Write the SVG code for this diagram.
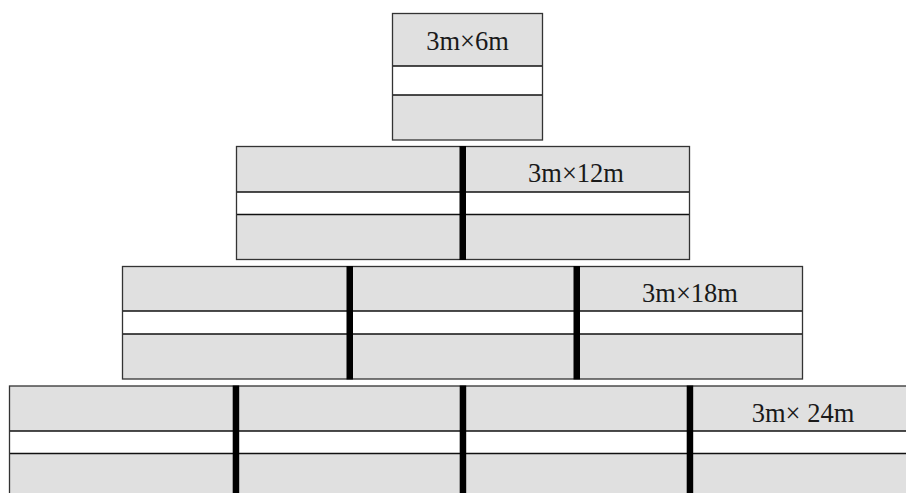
<svg xmlns="http://www.w3.org/2000/svg" width="906" height="493" viewBox="0 0 906 493">
  <style>
    .bg { fill: #ffffff; }
    .cell { fill: #e0e0e0; }
    .band { fill: #ffffff; }
    .edge { fill: none; stroke: #333333; stroke-width: 1.3; }
    .line { stroke: #111111; stroke-width: 1.3; }
    .div { fill: #000000; }
    .lbl { font-family: "Liberation Serif", "Times New Roman", serif; font-size: 26.5px; fill: #1a1a1a; text-anchor: middle; }
  </style>
  <rect class="bg" x="0" y="0" width="906" height="493"/>

  <g id="row-3x6">
    <rect class="cell" x="392.5" y="13.5" width="150" height="126.5"/>
    <rect class="band" x="392.5" y="66" width="150" height="29"/>
    <line class="line" x1="392.5" y1="66" x2="542.5" y2="66"/>
    <line class="line" x1="392.5" y1="95" x2="542.5" y2="95"/>
    <rect class="edge" x="392.5" y="13.5" width="150" height="126.5"/>
    <text class="lbl" x="467.5" y="50">3m×6m</text>
  </g>

  <g id="row-3x12">
    <rect class="cell" x="236.5" y="146.5" width="453" height="113"/>
    <rect class="band" x="236.5" y="192" width="453" height="22.5"/>
    <line class="line" x1="236.5" y1="192" x2="689.5" y2="192"/>
    <line class="line" x1="236.5" y1="214.5" x2="689.5" y2="214.5"/>
    <rect class="edge" x="236.5" y="146.5" width="453" height="113"/>
    <rect class="div" x="459.5" y="146" width="6.5" height="114"/>
    <text class="lbl" x="576" y="182">3m×12m</text>
  </g>

  <g id="row-3x18">
    <rect class="cell" x="122.5" y="266.5" width="680" height="112.5"/>
    <rect class="band" x="122.5" y="311" width="680" height="23"/>
    <line class="line" x1="122.5" y1="311" x2="802.5" y2="311"/>
    <line class="line" x1="122.5" y1="334" x2="802.5" y2="334"/>
    <rect class="edge" x="122.5" y="266.5" width="680" height="112.5"/>
    <rect class="div" x="346.5" y="266" width="6.5" height="113.5"/>
    <rect class="div" x="573.5" y="266" width="6.5" height="113.5"/>
    <text class="lbl" x="690" y="302">3m×18m</text>
  </g>

  <g id="row-3x24">
    <rect class="cell" x="9.5" y="386" width="910" height="115"/>
    <rect class="band" x="9.5" y="431" width="910" height="22.5"/>
    <line class="line" x1="9.5" y1="431" x2="919.5" y2="431"/>
    <line class="line" x1="9.5" y1="453.5" x2="919.5" y2="453.5"/>
    <rect class="edge" x="9.5" y="386" width="910" height="115"/>
    <rect class="div" x="232.7" y="385.5" width="6.5" height="110"/>
    <rect class="div" x="459.7" y="385.5" width="6.5" height="110"/>
    <rect class="div" x="686.7" y="385.5" width="6.5" height="110"/>
    <text class="lbl" x="803" y="421.5">3m× 24m</text>
  </g>

  <g id="connectors"></g>
</svg>
